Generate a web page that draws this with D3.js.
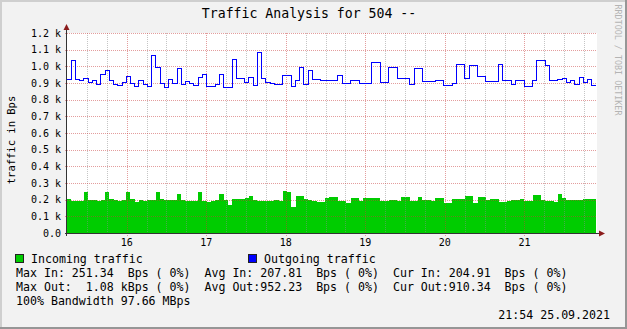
<!DOCTYPE html>
<html>
<head>
<meta charset="utf-8">
<script src="https://cdn.jsdelivr.net/npm/d3@7/dist/d3.min.js"></script>
<style>
  body { margin: 0; background: #f2f2f2; }
  svg text { font-family: "DejaVu Sans Mono", monospace; white-space: pre; }
</style>
</head>
<body>
<svg id="chart" width="627" height="329"></svg>
<script>
// values in k Bps, one per step
const inTraffic = [
  0.204, 0.190, 0.194, 0.190, 0.244, 0.196, 0.196, 0.192, 0.196, 0.244,
  0.206, 0.198, 0.192, 0.196, 0.244, 0.206, 0.188, 0.196, 0.190, 0.196,
  0.196, 0.244, 0.206, 0.196, 0.196, 0.196, 0.236, 0.196, 0.192, 0.192,
  0.192, 0.244, 0.190, 0.184, 0.190, 0.196, 0.236, 0.196, 0.170, 0.206,
  0.206, 0.206, 0.212, 0.222, 0.196, 0.190, 0.192, 0.194, 0.194, 0.200,
  0.194, 0.251, 0.244, 0.158, 0.222, 0.222, 0.206, 0.196, 0.194, 0.188,
  0.188, 0.210, 0.216, 0.216, 0.194, 0.194, 0.182, 0.210, 0.210, 0.194,
  0.210, 0.210, 0.210, 0.210, 0.193, 0.193, 0.198, 0.198, 0.194, 0.216,
  0.216, 0.193, 0.193, 0.216, 0.200, 0.200, 0.193, 0.210, 0.210, 0.182,
  0.182, 0.204, 0.204, 0.204, 0.222, 0.222, 0.182, 0.216, 0.216, 0.200,
  0.204, 0.204, 0.188, 0.188, 0.194, 0.198, 0.198, 0.204, 0.194, 0.194,
  0.228, 0.228, 0.200, 0.194, 0.194, 0.188, 0.234, 0.210, 0.200, 0.200,
  0.200, 0.200, 0.204, 0.204, 0.205
];

const outTraffic = [
  0.922, 1.036, 0.922, 0.916, 0.928, 0.908, 0.916, 0.894, 0.954, 0.978,
  0.916, 0.894, 0.888, 0.906, 0.942, 0.900, 0.884, 0.916, 0.894, 0.884,
  1.066, 0.996, 0.900, 0.878, 0.922, 0.900, 0.990, 0.894, 0.910, 0.900,
  0.888, 0.934, 0.954, 0.884, 0.884, 0.894, 0.954, 0.878, 0.878, 1.042,
  0.928, 0.928, 0.906, 0.934, 0.888, 1.084, 0.928, 0.906, 0.900, 0.894,
  0.894, 0.948, 0.948, 0.884, 0.916, 0.996, 0.894, 0.978, 0.922, 0.922,
  0.916, 0.916, 0.916, 0.916, 0.948, 0.900, 0.900, 0.916, 0.916, 0.900,
  0.900, 0.900, 1.026, 1.026, 0.906, 0.906, 0.996, 0.996, 0.928, 0.928,
  0.928, 0.894, 0.988, 0.988, 0.910, 0.910, 0.910, 0.920, 0.920, 0.886,
  0.886, 0.900, 1.012, 1.012, 0.928, 1.006, 1.006, 0.940, 0.940, 0.910,
  0.910, 0.910, 1.012, 0.920, 0.920, 0.894, 0.920, 0.920, 0.880, 0.880,
  0.916, 1.036, 1.036, 1.006, 0.916, 0.916, 0.926, 0.932, 0.904, 0.916,
  0.894, 0.934, 0.904, 0.924, 0.886
];

const yTicks = [0, 0.1, 0.2, 0.3, 0.4, 0.5, 0.6, 0.7, 0.8, 0.9, 1.0, 1.1, 1.2];
const yTickLabels = ["0.0", "0.1 k", "0.2 k", "0.3 k", "0.4 k", "0.5 k", "0.6 k",
  "0.7 k", "0.8 k", "0.9 k", "1.0 k", "1.1 k", "1.2 k"];
const hourTicks = [16, 17, 18, 19, 20, 21];

const startTime = new Date(2021, 8, 25, 15, 15);
const endTime = new Date(2021, 8, 25, 21, 54);

const title = "Traffic Analysis for 504 --";
const yTitle = "traffic in Bps";
const sideText = "RRDTOOL / TOBI OETIKER";
const legendItems = [
  { label: "Incoming traffic", color: "#00cc00", x: 15 },
  { label: "Outgoing traffic", color: "#0000ff", x: 248 }
];
const statLines = [
  "Max In: 251.34  Bps ( 0%)  Avg In: 207.81  Bps ( 0%)  Cur In: 204.91  Bps ( 0%)",
  "Max Out:  1.08 kBps ( 0%)  Avg Out:952.23  Bps ( 0%)  Cur Out:910.34  Bps ( 0%)",
  "100% Bandwidth 97.66 MBps"
];
const stamp = "21:54 25.09.2021";

const W = 627, H = 329;
const plot = { left: 67, right: 596, top: 33, bottom: 233 };

const svg = d3.select('#chart');

// background + rrdtool style shading
svg.append('rect').attr('width', W).attr('height', H).attr('fill', '#f2f2f2');
svg.append('path')
  .attr('d', `M0,0 H${W} V2 H2 V${H} H0 Z`)
  .attr('fill', '#cfcfcf');
svg.append('path')
  .attr('d', `M${W},${H} H0 V${H - 2} H${W - 2} V0 H${W} Z`)
  .attr('fill', '#969696');

const x = d3.scaleTime().domain([startTime, endTime]).range([plot.left, plot.right]);
const y = d3.scaleLinear().domain([0, 1.2]).range([plot.bottom, plot.top]);

const stepMs = (endTime - startTime) / inTraffic.length;
const toPoints = arr => {
  const pts = arr.map((v, i) => ({ t: new Date(+startTime + i * stepMs), v }));
  pts.push({ t: endTime, v: arr[arr.length - 1] });
  return pts;
};

// canvas
svg.append('rect')
  .attr('x', plot.left).attr('y', plot.top)
  .attr('width', plot.right - plot.left + 1).attr('height', plot.bottom - plot.top)
  .attr('fill', '#ffffff');

// incoming area
const area = d3.area()
  .curve(d3.curveStepAfter)
  .x(d => x(d.t))
  .y0(y(0))
  .y1(d => y(d.v));

svg.append('path')
  .datum(toPoints(inTraffic))
  .attr('d', area)
  .attr('fill', '#00cc00')
  .attr('shape-rendering', 'crispEdges');

// grid (over the area, like the original)
const gridG = svg.append('g').attr('shape-rendering', 'crispEdges');
const minorTimes = d3.timeMinute.every(15).range(startTime, endTime)
  .filter(t => t.getMinutes() !== 0 && +t !== +startTime);
const hourTimes = hourTicks.map(h => new Date(2021, 8, 25, h, 0));

const px = v => Math.round(v) + 0.5;

gridG.selectAll('line.minor')
  .data(minorTimes)
  .join('line')
  .attr('class', 'minor')
  .attr('x1', d => px(x(d))).attr('x2', d => px(x(d)))
  .attr('y1', plot.top).attr('y2', plot.bottom + 2)
  .attr('stroke', 'rgba(140,140,140,0.5)')
  .attr('stroke-dasharray', '1,1');

gridG.selectAll('line.vmajor')
  .data(hourTimes)
  .join('line')
  .attr('class', 'vmajor')
  .attr('x1', d => px(x(d))).attr('x2', d => px(x(d)))
  .attr('y1', plot.top).attr('y2', plot.bottom + 3)
  .attr('stroke', 'rgba(200,60,60,0.5)')
  .attr('stroke-dasharray', '1,1');

gridG.selectAll('line.hmajor')
  .data(yTicks.slice(1))
  .join('line')
  .attr('class', 'hmajor')
  .attr('x1', plot.left - 2).attr('x2', plot.right + 1)
  .attr('y1', d => px(y(d))).attr('y2', d => px(y(d)))
  .attr('stroke', 'rgba(200,60,60,0.5)')
  .attr('stroke-dasharray', '1,1');

// outgoing line
const line = d3.line()
  .curve(d3.curveStepAfter)
  .x(d => x(d.t))
  .y(d => Math.round(y(d.v)) + 0.5);

svg.append('path')
  .datum(toPoints(outTraffic))
  .attr('d', line)
  .attr('fill', 'none')
  .attr('stroke', '#0000ff')
  .attr('stroke-width', 1)
  .attr('shape-rendering', 'crispEdges');

// axes
svg.append('line')
  .attr('x1', plot.left - 0.5).attr('x2', plot.left - 0.5)
  .attr('y1', plot.bottom + 3).attr('y2', plot.top - 4)
  .attr('stroke', '#333').attr('shape-rendering', 'crispEdges');
svg.append('line')
  .attr('x1', plot.left - 2).attr('x2', plot.right + 4)
  .attr('y1', plot.bottom + 0.5).attr('y2', plot.bottom + 0.5)
  .attr('stroke', '#333').attr('shape-rendering', 'crispEdges');

const arrowColor = '#8b1c1c';
svg.append('path')
  .attr('d', `M${plot.left - 3.5},${plot.top - 3} L${plot.left - 0.5},${plot.top - 9} L${plot.left + 2.5},${plot.top - 3} Z`)
  .attr('fill', arrowColor);
svg.append('path')
  .attr('d', `M${plot.right + 3},${plot.bottom - 2.5} L${plot.right + 9},${plot.bottom + 0.5} L${plot.right + 3},${plot.bottom + 3.5} Z`)
  .attr('fill', arrowColor);

// y labels
svg.append('g')
  .selectAll('text')
  .data(yTicks)
  .join('text')
  .attr('x', 61)
  .attr('y', d => y(d) + 3.5)
  .attr('text-anchor', 'end')
  .attr('font-size', 10)
  .attr('fill', '#000')
  .text((d, i) => yTickLabels[i]);

// x labels
svg.append('g')
  .selectAll('text')
  .data(hourTimes)
  .join('text')
  .attr('x', d => x(d))
  .attr('y', 246)
  .attr('text-anchor', 'middle')
  .attr('font-size', 10)
  .attr('fill', '#000')
  .text(d => d3.timeFormat('%H')(d));

// title + axis title + side text
svg.append('text')
  .attr('x', 309).attr('y', 18)
  .attr('text-anchor', 'middle')
  .attr('font-size', 13.2)
  .text(title);

svg.append('text')
  .attr('transform', 'translate(15,140) rotate(-90)')
  .attr('text-anchor', 'middle')
  .attr('font-size', 10.5)
  .text(yTitle);

svg.append('text')
  .attr('transform', 'translate(615,60) rotate(90)')
  .attr('text-anchor', 'middle')
  .attr('font-size', 8.4)
  .attr('fill', '#b4b4b4')
  .text(sideText);

// legend
const legG = svg.append('g');
legendItems.forEach(d => {
  legG.append('rect')
    .attr('x', d.x + 0.5).attr('y', 254.5)
    .attr('width', 8).attr('height', 8)
    .attr('fill', d.color)
    .attr('stroke', '#222');
  legG.append('text')
    .attr('x', d.x + 16).attr('y', 263)
    .attr('font-size', 11.6)
    .text(d.label);
});

legG.selectAll('text.stat')
  .data(statLines)
  .join('text')
  .attr('class', 'stat')
  .attr('x', 16)
  .attr('y', (d, i) => 277 + i * 14)
  .attr('font-size', 11.6)
  .text(d => d);

svg.append('text')
  .attr('x', 610).attr('y', 318.5)
  .attr('text-anchor', 'end')
  .attr('font-size', 11.6)
  .text(stamp);
</script>
</body>
</html>
